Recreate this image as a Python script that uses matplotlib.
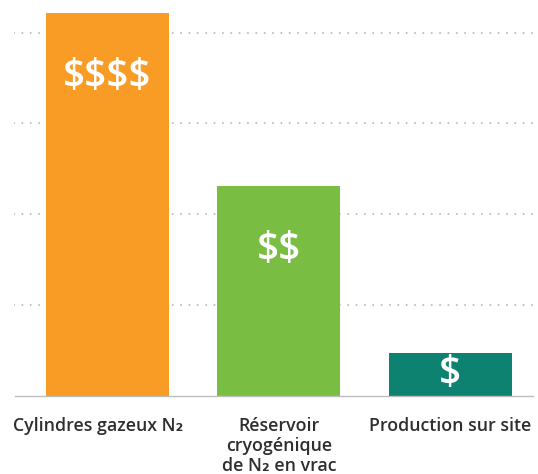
import matplotlib.pyplot as plt
from matplotlib.transforms import ScaledTranslation

# Relative cost of nitrogen supply options (gridline = 1 unit)
categories = ['Cylindres gazeux N\u2082', 'R\u00e9servoir\ncryog\u00e9nique\nde N\u2082 en vrac', 'Production sur site']
costs = [4.21, 2.31, 0.47]
symbols = ['$$$$', '$$', '$']
colors = ['#F89C26', '#7ABD43', '#0D8270']

plt.rcParams['font.family'] = ['Open Sans', 'DejaVu Sans']

fig = plt.figure(figsize=(5.38, 4.74), dpi=100)
ax = fig.add_axes([14 / 538, 78.3 / 474, 524 / 538, 395.7 / 474])

x = list(range(len(categories)))
ax.bar(x, costs, width=0.718, color=colors, zorder=3)

# dotted gridlines
for g in [1, 2, 3, 4]:
    ax.axhline(g, color='#BDBDBD', linewidth=1.5, linestyle=(0, (0.01, 4.0)),
               dash_capstyle='round', zorder=1)
ax.plot([-0.5455 + 1 / 171.4, 2.512 - 5 / 171.4], [0, 0], color='#BDBDBD',
        linewidth=1.0, zorder=4, clip_on=False)

# dollar signs inside bars
for xi, v, s in zip(x, costs, symbols):
    ax.text(xi, max(v - 0.7, v / 2), s, color='white', fontsize=28,
            fontweight='semibold', ha='center', va='center', zorder=5,
            usetex=False, parse_math=False)

ax.set_xlim(-0.5455, 2.512)
ax.set_ylim(0, 4.358)
ax.set_xticks(x)
ax.set_xticklabels(categories, fontsize=12.8, color='#2E2E2E', linespacing=1.15,
                   fontweight='semibold')
ax.tick_params(axis='x', length=0, pad=15)
# first label sits a little left of its bar in the original
lbl = ax.get_xticklabels()[0]
lbl.set_transform(lbl.get_transform() + ScaledTranslation(-0.09, 0, fig.dpi_scale_trans))
ax.set_yticks([])
for sp in ax.spines.values():
    sp.set_visible(False)

fig.savefig('out.png', dpi=100)
